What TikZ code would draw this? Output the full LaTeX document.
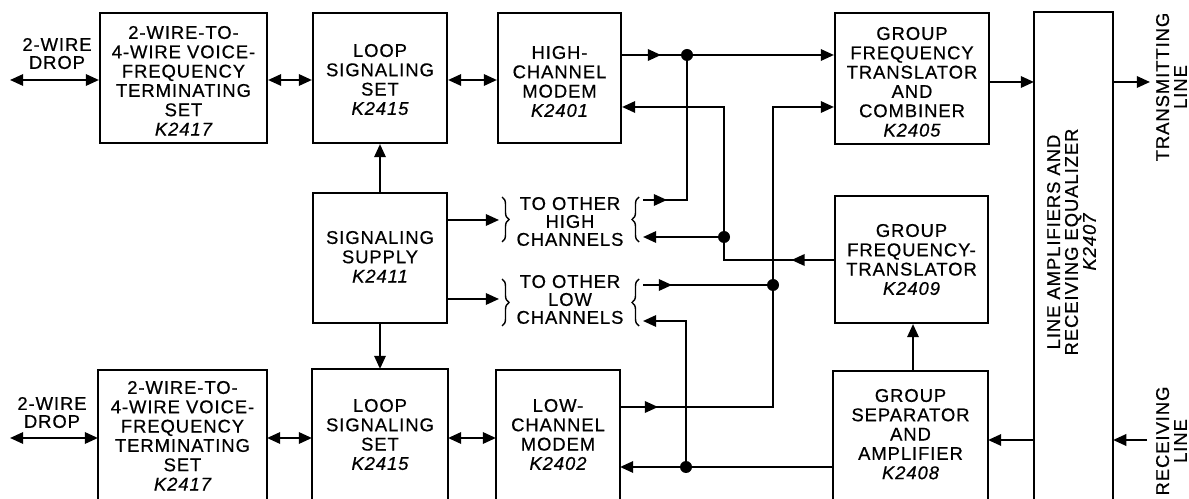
\documentclass[tikz,border=0pt]{standalone}
\usepackage{fontspec}
\newfontfamily\lblfont{Liberation Sans}[LetterSpace=5.0, FakeBold=0.6]
\usetikzlibrary{arrows.meta,decorations.markings,decorations.pathreplacing,fit}
\newcommand\lbl{\lblfont\fontsize{10.5}{11}\selectfont}
\newcommand\lbs{\lblfont\fontsize{10.5}{10.2}\selectfont}
\newcommand\kn[1]{{\itshape #1}}
\begin{document}
\begin{tikzpicture}[x=0.02cm,y=-0.02cm,
  line width=1.2pt,
  >={Triangle[length=7.5pt,width=6.5pt]},
  box/.style={draw, inner sep=0pt},
  openbox/.style={inner sep=0pt},
  lab/.style={inner sep=0pt, align=center, font=\lbl, anchor=north},
  labs/.style={inner sep=0pt, align=center, font=\lbs, anchor=north},
  midarrow/.style={postaction={decorate}, decoration={markings, mark=at position #1 with {\arrow{Triangle[length=7.5pt,width=6.5pt]}}}},
  brc/.style={decorate, decoration={brace, amplitude=0.14cm}, line width=0.8pt}]
\useasboundingbox (0,0) rectangle (1189,499);
\clip (0,0) rectangle (1189,499);

% ---- blocks
\node[box, fit={(100,13) (267,143)}] (vfA) {};
\node[box, fit={(313,13) (447,143)}] (lsA) {};
\node[box, fit={(498,13) (621,143)}] (hcm) {};
\node[box, fit={(835,13) (989,144)}] (gftc) {};
\node[box, fit={(313,193) (447,323)}] (ss) {};
\node[box, fit={(835,196) (988,323)}] (gft) {};
\node[openbox, fit={(99,371) (266,499)}] (vfB) {};
\node[openbox, fit={(313,370) (447,499)}] (lsB) {};
\node[openbox, fit={(497,371) (619,499)}] (lcm) {};
\node[openbox, fit={(834,372) (987,499)}] (gsa) {};
\node[openbox, fit={(1035,13) (1112,499)}] (la) {};
\foreach \b in {vfB,lsB,lcm,gsa,la}
  \draw (\b.south west) -- (\b.north west) -- (\b.north east) -- (\b.south east);

% ---- block texts
\path (vfA.north) ++(0,13) node[lab] (vfAt) {2-WIRE-TO-\\4-WIRE VOICE-\\FREQUENCY\\TERMINATING\\SET\\\kn{K2417}};
\path (lsA.north) ++(0,31) node[lab] (lsAt) {LOOP\\SIGNALING\\SET\\\kn{K2415}};
\path (hcm.north) ++(0,33) node[lab] (hcmt) {HIGH-\\CHANNEL\\MODEM\\\kn{K2401}};
\path (gftc.north) ++(0,14) node[lab] (gftct) {GROUP\\FREQUENCY\\TRANSLATOR\\AND\\COMBINER\\\kn{K2405}};
\path (ss.north) ++(0,38) node[lab] (sst) {SIGNALING\\SUPPLY\\\kn{K2411}};
\path (gft.north) ++(0,28) node[lab] (gftt) {GROUP\\FREQUENCY-\\TRANSLATOR\\\kn{K2409}};
\path (vfB.north) ++(0,10) node[lab] (vfBt) {2-WIRE-TO-\\4-WIRE VOICE-\\FREQUENCY\\TERMINATING\\SET\\\kn{K2417}};
\path (lsB.north) ++(0,29) node[lab] (lsBt) {LOOP\\SIGNALING\\SET\\\kn{K2415}};
\path (lcm.north) ++(0,28) node[lab] (lcmt) {LOW-\\CHANNEL\\MODEM\\\kn{K2402}};
\path (gsa.north) ++(0,17) node[lab] (gsat) {GROUP\\SEPARATOR\\AND\\AMPLIFIER\\\kn{K2408}};
\node[labs, rotate=90] (lat) at (1046,242) {LINE AMPLIFIERS AND\\RECEIVING EQUALIZER\\\kn{K2407}};

% ---- free texts
\node[labs] (dA) at (57,37) {2-WIRE\\DROP};
\node[labs] (dB) at (52,396) {2-WIRE\\DROP};
\node[labs, rotate=90] (txl) at (1155,87) {TRANSMITTING\\LINE};
\node[labs, rotate=90] (rxl) at (1155,441) {RECEIVING\\LINE};
\node[labs] (tH) at (570,196) {TO OTHER\\HIGH\\CHANNELS};
\node[labs] (tL) at (570,274) {TO OTHER\\LOW\\CHANNELS};

% ---- braces
\draw[brc] (502,197) -- (502,242);
\draw[brc] (639,242) -- (639,197);
\draw[brc] (502,279) -- (502,326);
\draw[brc] (639,326) -- (639,279);

% ---- coordinates
\coordinate (dropA) at (10,80);
\coordinate (dropB) at (10,438);
\coordinate (bHl) at (499,220);
\coordinate (bLl) at (499,299);
\coordinate (hRa) at (643,200);
\coordinate (hRb) at (643,237);
\coordinate (lRa) at (643,285);
\coordinate (lRb) at (643,321);
\coordinate (j1) at (687,55);
\coordinate (j2) at (724,237);
\coordinate (j3) at (773,285);
\coordinate (j4) at (686,467);
\coordinate (y107) at (0,107);
\coordinate (y260) at (0,260);
\coordinate (y407) at (0,407);
\coordinate (y82) at (0,82);
\coordinate (x913) at (913,0);
\coordinate (x380) at (380,0);
\coordinate (tx) at (1150,82);
\coordinate (rx) at (1147,440);

% ---- left side connectors
\draw[<->] (dropA) -- (vfA.west |- dropA);
\draw[<->] (vfA.east |- dropA) -- (lsA.west |- dropA);
\draw[<->] (lsA.east |- dropA) -- (hcm.west |- dropA);
\draw[<->] (dropB) -- (vfB.west |- dropB);
\draw[<->] (vfB.east |- dropB) -- (lsB.west |- dropB);
\draw[<->] (lsB.east |- dropB) -- (lcm.west |- dropB);
\draw[->] (x380 |- ss.north) -- (x380 |- lsA.south);
\draw[->] (x380 |- ss.south) -- (x380 |- lsB.north);
\draw[->] (ss.east |- bHl) -- (bHl);
\draw[->] (ss.east |- bLl) -- (bLl);

% ---- high channel network
\draw[midarrow=0.6] (hcm.east |- j1) -- (j1);
\draw[->] (j1) -- (gftc.west |- j1);
\draw[midarrow=0.48cm] (hRa) -- (j1 |- hRa) -- (j1);
\draw[->, midarrow=0.85cm] (gft.west |- y260) -- (j2 |- y260) -- (j2 |- y107) -- (hcm.east |- y107);
\draw[->] (j2) -- (hRb);

% ---- low channel network
\draw[->, midarrow=0.76cm] (lcm.east |- y407) -- (j3 |- y407) -- (j3 |- y107) -- (gftc.west |- y107);
\draw[midarrow=0.58cm] (lRa) -- (j3);
\draw[->] (gsa.west |- j4) -- (lcm.east |- j4);
\draw[->] (j4) -- (j4 |- lRb) -- (lRb);

% ---- right side
\draw[->] (gftc.east |- y82) -- (la.west |- y82);
\draw[->] (la.east |- tx) -- (tx);
\draw[->] (rx) -- (la.east |- rx);
\draw[->] (la.west |- rx) -- (gsa.east |- rx);
\draw[->] (x913 |- gsa.north) -- (x913 |- gft.south);

% ---- junction dots
\foreach \j in {j1,j2,j3,j4} \fill (\j) circle[radius=0.12cm];
\end{tikzpicture}
\end{document}
